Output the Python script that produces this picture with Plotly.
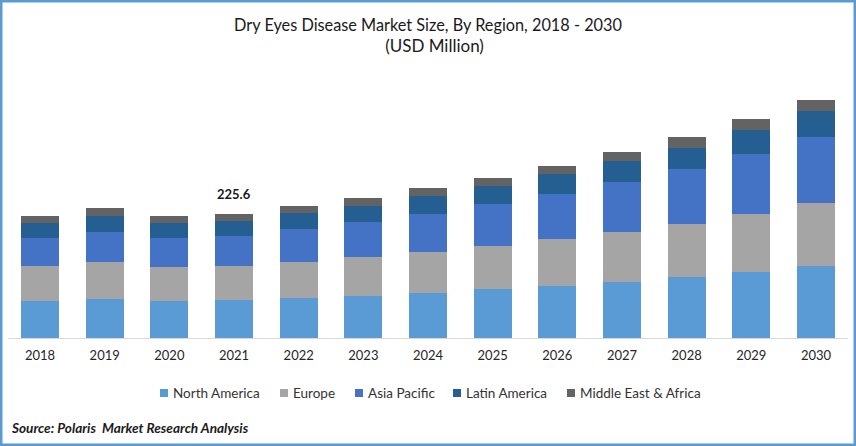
import plotly.graph_objects as go

W = 856
H = 446

years = ['2018', '2019', '2020', '2021', '2022', '2023', '2024', '2025', '2026', '2027', '2028', '2029', '2030']

# USD million (2021 total is the labelled 225.6)
north_america = [67.3, 70.9, 67.3, 69.1, 72.8, 76.4, 81.9, 89.1, 94.6, 101.9, 111.0, 120.1, 131.0]
europe = [63.7, 67.3, 61.8, 61.8, 65.5, 70.9, 74.6, 78.2, 85.5, 91.0, 96.4, 105.5, 114.6]
asia_pacific = [50.9, 54.6, 52.8, 54.6, 60.0, 63.7, 69.1, 76.4, 81.9, 91.0, 100.1, 109.1, 120.1]
latin_america = [27.3, 29.1, 27.3, 27.3, 29.1, 29.1, 32.7, 32.7, 36.4, 38.2, 38.2, 43.7, 47.3]
middle_east = [12.7, 14.6, 12.7, 12.8, 12.7, 14.6, 14.6, 14.6, 14.6, 16.4, 20.0, 20.0, 20.0]

series = [
    ('North America', north_america, '#5B9BD5'),
    ('Europe', europe, '#A5A5A5'),
    ('Asia Pacific', asia_pacific, '#4472C4'),
    ('Latin America', latin_america, '#255E91'),
    ('Middle East & Africa', middle_east, '#636363'),
]

fig = go.Figure()
for name, values, color in series:
    fig.add_trace(go.Bar(x=years, y=values, name=name, marker=dict(color=color, line=dict(width=0))))

fig.update_layout(
    barmode='stack',
    bargap=0.412,
    width=W,
    height=H,
    margin=dict(l=0, r=0, t=0, b=0),
    paper_bgcolor='white',
    plot_bgcolor='white',
    font=dict(family='Lato', color='#1a1a1a'),
    showlegend=False,
    title=dict(
        text='Dry Eyes Disease Market Size, By Region, 2018 - 2030<br>'
             '<span style="font-size:17px">&nbsp;&nbsp;&nbsp;(USD Million)</span>',
        x=0.5, xanchor='center', y=1 - 31 / H, yanchor='middle',
        font=dict(family='Lato', size=16.3, color='#1a1a1a'),
    ),
    xaxis=dict(
        domain=[7.7 / W, 848.3 / W], type='category', showline=True, linecolor='#D9D9D9', linewidth=1,
        ticks='', showgrid=False, ticklabelstandoff=5, tickfont=dict(family='Lato', size=13, color='#262626'),
    ),
    yaxis=dict(domain=[1 - 338 / H, 1 - 50 / H], range=[0, 524], visible=False),
)

# labelled total on 2021; numeric-looking categories have to go in by index
fig.add_annotation(
    x=years.index('2021'), y=sum(s[1][3] for s in series), text='<b>225.6</b>', showarrow=False,
    yanchor='bottom', yshift=10, font=dict(family='Lato', size=13, color='#1a1a1a'),
)
fig.add_annotation(
    xref='paper', yref='paper', x=9 / W, y=1 - 428 / H, xanchor='left', yanchor='middle',
    text='<b><i>Source: Polaris  Market Research Analysis</i></b>', showarrow=False,
    font=dict(family='Lato', size=13.6, color='#1a1a1a'),
)

# legend drawn by hand, plotly's own keeps too wide a gap after the swatch
legend_left = [160, 280, 355, 453, 567]
for (name, values, color), left in zip(series, legend_left):
    fig.add_shape(
        type='rect', xref='paper', yref='paper', x0=left / W, x1=(left + 8) / W,
        y0=1 - 397 / H, y1=1 - 389 / H, fillcolor=color, line=dict(width=0),
    )
    fig.add_annotation(
        xref='paper', yref='paper', x=(left + 11) / W, y=1 - 393 / H, xanchor='left', yanchor='middle',
        text=name, showarrow=False, font=dict(family='Lato', size=13.5, color='#333333'),
    )

# blue frame round the picture
fig.add_shape(
    type='rect', xref='paper', yref='paper', x0=1 / W, y0=1 / H, x1=1 - 1 / W, y1=1 - 1 / H,
    line=dict(color='#5B9BD5', width=3), fillcolor='rgba(0,0,0,0)',
)

fig.write_html('out.html', config={'displayModeBar': False}, post_script="document.body.style.margin='0';")
